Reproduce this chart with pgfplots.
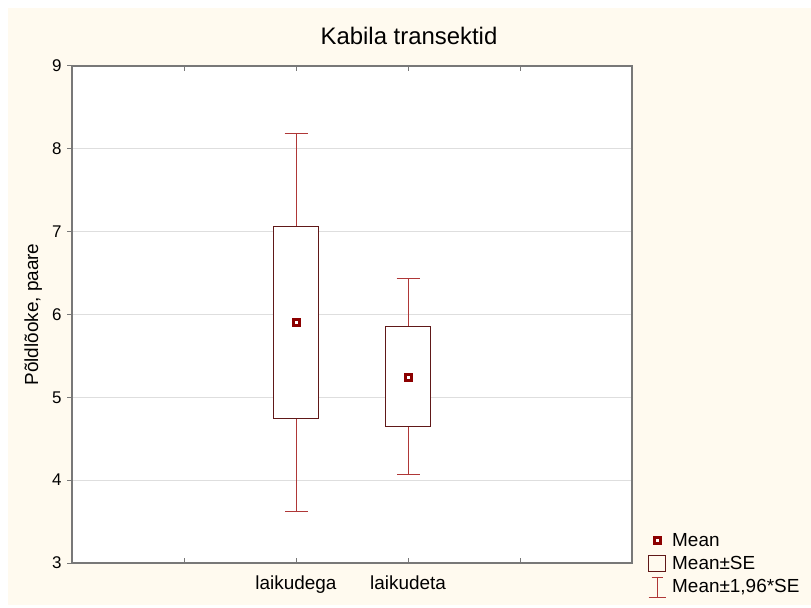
\documentclass[border=0pt]{standalone}
\usepackage{fontspec}
\setmainfont{Liberation Sans}
\usepackage{pgfplots}
\pgfplotsset{compat=1.18}
\definecolor{bgcream}{RGB}{255,250,239}
\definecolor{boxcol}{RGB}{96,24,24}
\definecolor{whiskcol}{RGB}{175,55,55}
\definecolor{meancol}{RGB}{140,0,0}
\definecolor{axcol}{RGB}{120,120,120}
\definecolor{gridcol}{RGB}{222,222,222}
\begin{document}
\begin{tikzpicture}
\path[fill=white, use as bounding box] (0,0) rectangle (811bp,608bp);
\fill[bgcream] (8bp,3bp) rectangle (811bp,600bp);
\node[anchor=base, font=\fontsize{24}{28}\selectfont] at (409bp,563bp) {Kabila transektid};
\begin{axis}[
  at={(72bp,45bp)}, anchor=south west,
  scale only axis, width=560bp, height=497bp,
  xmin=0, xmax=5, ymin=3, ymax=9,
  xtick={1,2,3,4}, xticklabels={,laikudega,laikudeta,},
  ytick={3,4,5,6,7,8,9},
  xtick pos=both, ytick pos=left,
  tick align=inside, major tick length=5bp,
  tick style={axcol, line width=1bp},
  y tick style={xshift=-5bp},
  axis line style={axcol, line width=1.2bp},
  axis background/.style={fill=white},
  ymajorgrids, major grid style={gridcol, line width=1bp},
  /pgf/number format/assume math mode=true,
  yticklabel style={font=\fontsize{17}{20}\selectfont, anchor=east, xshift=-7bp},
  xticklabel style={font=\fontsize{19}{22}\selectfont, anchor=base, yshift=-26bp},
  ylabel={Põldlõoke, paare},
  every axis y label/.style={at={(axis description cs:0,0.5)}, xshift=-34bp, rotate=90, anchor=base, font=\fontsize{19}{22}\selectfont},
  legend style={at={(axis description cs:1.0286,0.064)}, anchor=north west, draw=none, fill=none,
    font=\fontsize{19}{22}\selectfont, inner sep=0pt, row sep=4bp,
    /tikz/every odd column/.append style={column sep=4bp}},
  legend cell align=left,
]
% whiskers: mean +- 1.96*SE
\addplot[forget plot, draw=none, mark=none, whiskcol,
  error bars/.cd, y dir=both, y explicit,
  error bar style={whiskcol, line width=1bp},
  error mark=|, error mark options={whiskcol, line width=1bp, mark size=11.5bp}]
  coordinates {(2,5.905) +- (0,2.285) (3,5.25) +- (0,1.185)};
% boxes: mean +- SE
\addplot[forget plot, boxcol, fill=white, line width=1bp, mark=none]
  coordinates {(1.8,4.74) (2.2,4.74) (2.2,7.06) (1.8,7.06) (1.8,4.74)};
\addplot[forget plot, boxcol, fill=white, line width=1bp, mark=none]
  coordinates {(2.8,4.645) (3.2,4.645) (3.2,5.855) (2.8,5.855) (2.8,4.645)};
% means
\addplot[forget plot, only marks, mark=square*, mark size=3bp,
  mark options={draw=meancol, fill=white, line width=3bp}] coordinates {(2,5.90) (3,5.24)};
\addlegendimage{legend image code/.code={\path[draw=none, fill=none] (0bp,-8bp) rectangle (17bp,8bp);
  \draw[meancol, fill=white, line width=3bp] (5.5bp,-3bp) rectangle (11.5bp,3bp);}}
\addlegendentry{Mean}
\addlegendimage{legend image code/.code={\draw[boxcol, line width=1bp, fill=none] (0bp,-8bp) rectangle (17bp,8bp);}}
\addlegendentry{Mean±SE}
\addlegendimage{legend image code/.code={\draw[whiskcol, line width=1bp] (3bp,10bp) -- (14bp,10bp) (8.5bp,10bp) -- (8.5bp,-10bp) (0bp,-10bp) -- (17bp,-10bp);}}
\addlegendentry{Mean±1,96*SE}
\end{axis}
\end{tikzpicture}
\end{document}
